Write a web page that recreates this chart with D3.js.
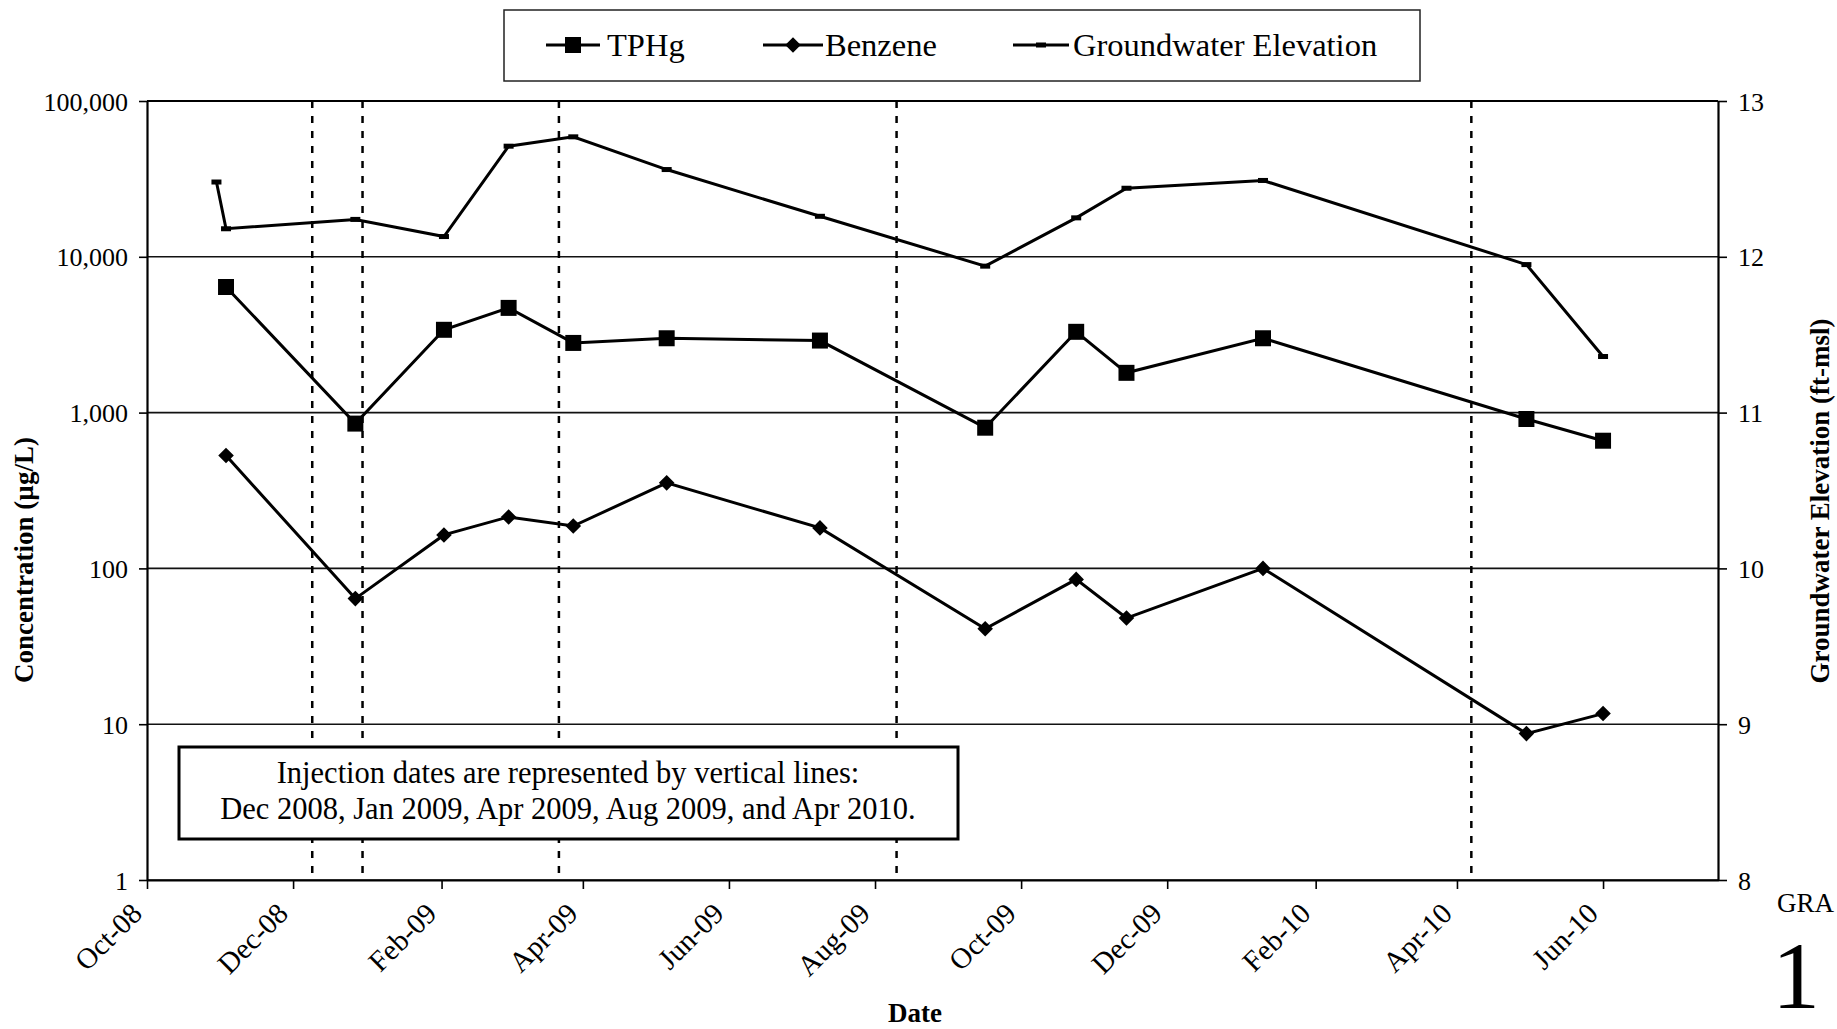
<!DOCTYPE html>
<html>
<head>
<meta charset="utf-8">
<script src="https://cdn.jsdelivr.net/npm/d3@7/dist/d3.min.js"></script>
<style>
  html, body { margin: 0; padding: 0; background: #fff; }
  svg { display: block; }
  text { font-family: "Liberation Serif", "DejaVu Serif", serif; fill: #000; }
</style>
</head>
<body>
<svg id="chart" width="1837" height="1029"></svg>
<script>
// ---------------- DATA ----------------
const sampleDates = ["2008-11-03","2008-12-27","2009-02-02","2009-03-01","2009-03-28","2009-05-06",
  "2009-07-09","2009-09-16","2009-10-24","2009-11-14","2010-01-10","2010-04-30","2010-06-01"];
const tphg =    [6400, 850, 3400, 4700, 2800, 3000, 2900, 800, 3300, 1800, 3000, 910, 660];
const benzene = [530, 64, 164, 214, 187, 354, 182, 41, 85, 48, 100, 8.7, 11.7];

const gwDates = ["2008-10-30","2008-11-03","2008-12-27","2009-02-02","2009-03-01","2009-03-28","2009-05-06",
  "2009-07-09","2009-09-16","2009-10-24","2009-11-14","2010-01-10","2010-04-30","2010-06-01"];
const gwElev = [12.48, 12.18, 12.24, 12.13, 12.71, 12.77, 12.56, 12.26, 11.94, 12.25, 12.44, 12.49, 11.95, 11.36];

const injectionDates = ["2008-12-09","2008-12-30","2009-03-22","2009-08-10","2010-04-07"];

const xTickDates = ["2008-10-01","2008-12-01","2009-02-01","2009-04-01","2009-06-01","2009-08-01",
  "2009-10-01","2009-12-01","2010-02-01","2010-04-01","2010-06-01"];
const leftTicks = [1, 10, 100, 1000, 10000, 100000];
const rightTicks = [8, 9, 10, 11, 12, 13];
const xDomain = ["2008-10-01", "2010-07-19"];

const legendLabels = ["TPHg", "Benzene", "Groundwater Elevation"];
const noteLines = ["Injection dates are represented by vertical lines:",
  "Dec 2008, Jan 2009, Apr 2009, Aug 2009, and Apr 2010."];

// ---------------- SETUP ----------------
const parse = d3.timeParse("%Y-%m-%d");
const svg = d3.select("#chart");
const L = 147, R = 1718, T = 101, B = 880;

const x = d3.scaleTime().domain(xDomain.map(parse)).range([L, R]);
const yL = d3.scaleLog().domain([1, 100000]).range([B, T]);
const yR = d3.scaleLinear().domain([8, 13]).range([B, T]);

// gridlines
svg.append("g").selectAll("line").data(leftTicks).join("line")
  .attr("x1", L).attr("x2", R)
  .attr("y1", d => yL(d)).attr("y2", d => yL(d))
  .attr("stroke", "#111").attr("stroke-width", 1.6);

// injection lines
svg.append("g").selectAll("line").data(injectionDates.map(parse)).join("line")
  .attr("x1", d => x(d)).attr("x2", d => x(d))
  .attr("y1", T).attr("y2", B)
  .attr("stroke", "#000").attr("stroke-width", 2.5)
  .attr("stroke-dasharray", "7,8");

// axes
const fmtX = d3.timeFormat("%b-%y");
const gx = svg.append("g").attr("transform", `translate(0,${B})`)
  .call(d3.axisBottom(x).tickValues(xTickDates.map(parse)).tickFormat(fmtX).tickSize(9).tickSizeOuter(0));
gx.selectAll("text")
  .attr("font-size", 29)
  .attr("text-anchor", "end")
  .attr("transform", "translate(-11,28) rotate(-45)")
  .attr("dy", "0.35em").attr("y", 0).attr("x", 0);

const gl = svg.append("g").attr("transform", `translate(${L},0)`)
  .call(d3.axisLeft(yL).tickValues(leftTicks).tickFormat(d3.format(",")).tickSize(8).tickSizeOuter(0));
gl.selectAll("text").attr("font-size", 26).attr("x", -19).attr("dy", "0.35em");

const gr = svg.append("g").attr("transform", `translate(${R},0)`)
  .call(d3.axisRight(yR).tickValues(rightTicks).tickFormat(d3.format("d")).tickSize(9).tickSizeOuter(0));
gr.selectAll("text").attr("font-size", 26).attr("x", 20).attr("dy", "0.35em");

[gx, gl, gr].forEach(g => {
  g.attr("font-family", null).attr("font-size", null);
  g.select(".domain").attr("stroke", "#000").attr("stroke-width", 2.2);
  g.selectAll(".tick line").attr("stroke", "#000").attr("stroke-width", 1.6);
  g.selectAll("text").attr("fill", "#000");
});
// top frame line
svg.append("line").attr("x1", L).attr("x2", R).attr("y1", T).attr("y2", T)
  .attr("stroke", "#000").attr("stroke-width", 2.2);

// series lines
const tData = sampleDates.map((d, i) => ({ date: parse(d), v: tphg[i] }));
const bData = sampleDates.map((d, i) => ({ date: parse(d), v: benzene[i] }));
const gData = gwDates.map((d, i) => ({ date: parse(d), v: gwElev[i] }));

const lineL = d3.line().x(d => x(d.date)).y(d => yL(d.v));
const lineR = d3.line().x(d => x(d.date)).y(d => yR(d.v));

svg.append("path").datum(gData).attr("d", lineR).attr("fill", "none").attr("stroke", "#000").attr("stroke-width", 3);
svg.append("path").datum(tData).attr("d", lineL).attr("fill", "none").attr("stroke", "#000").attr("stroke-width", 3);
svg.append("path").datum(bData).attr("d", lineL).attr("fill", "none").attr("stroke", "#000").attr("stroke-width", 3);

const sq = d3.symbol().type(d3.symbolSquare).size(256);
const dia = d3.symbol().type(d3.symbolSquare).size(121);

svg.append("g").selectAll("path").data(tData).join("path")
  .attr("d", sq).attr("transform", d => `translate(${x(d.date)},${yL(d.v)})`).attr("fill", "#000");
svg.append("g").selectAll("path").data(bData).join("path")
  .attr("d", dia).attr("transform", d => `translate(${x(d.date)},${yL(d.v)}) rotate(45)`).attr("fill", "#000");
svg.append("g").selectAll("rect").data(gData).join("rect")
  .attr("x", d => x(d.date) - 5).attr("y", d => yR(d.v) - 2.5)
  .attr("width", 10).attr("height", 5).attr("fill", "#000");

// note box
svg.append("rect").attr("x", 179).attr("y", 747).attr("width", 779).attr("height", 92)
  .attr("fill", "#fff").attr("stroke", "#000").attr("stroke-width", 3);
svg.append("g").selectAll("text").data(noteLines).join("text")
  .attr("x", 568).attr("y", (d, i) => 783 + i * 36)
  .attr("text-anchor", "middle").attr("font-size", 30.5).text(d => d);

// legend
svg.append("rect").attr("x", 504).attr("y", 10).attr("width", 916).attr("height", 71)
  .attr("fill", "#fff").attr("stroke", "#222").attr("stroke-width", 1.5);
const legY = 45;
const legItems = [
  { x1: 546, x2: 600, tx: 607 },
  { x1: 763, x2: 823, tx: 825 },
  { x1: 1013, x2: 1069, tx: 1073 }
];
const lg = svg.append("g");
legItems.forEach((it, i) => {
  lg.append("line").attr("x1", it.x1).attr("x2", it.x2).attr("y1", legY).attr("y2", legY)
    .attr("stroke", "#000").attr("stroke-width", 3);
  const cx = (it.x1 + it.x2) / 2;
  if (i === 0) lg.append("path").attr("d", sq).attr("transform", `translate(${cx},${legY})`);
  else if (i === 1) lg.append("path").attr("d", dia).attr("transform", `translate(${cx},${legY}) rotate(45)`);
  else lg.append("rect").attr("x", cx - 5).attr("y", legY - 2.5).attr("width", 10).attr("height", 5);
  lg.append("text").attr("x", it.tx).attr("y", 56).attr("font-size", 32.5).text(legendLabels[i]);
});

// axis titles
svg.append("text").attr("transform", "translate(33,560) rotate(-90)")
  .attr("text-anchor", "middle").attr("font-size", 27).attr("font-weight", "bold")
  .text("Concentration (µg/L)");
svg.append("text").attr("transform", "translate(1829,501) rotate(-90)")
  .attr("text-anchor", "middle").attr("font-size", 27).attr("font-weight", "bold")
  .text("Groundwater Elevation (ft-msl)");
svg.append("text").attr("x", 915).attr("y", 1022)
  .attr("text-anchor", "middle").attr("font-size", 27).attr("font-weight", "bold")
  .text("Date");

// page labels (visible parts at the page's right edge)
svg.append("text").attr("x", 1777).attr("y", 912).attr("font-size", 27).text("GRA");
svg.append("text").attr("x", 1772).attr("y", 1008).attr("font-size", 96).text("1");
</script>
</body>
</html>
